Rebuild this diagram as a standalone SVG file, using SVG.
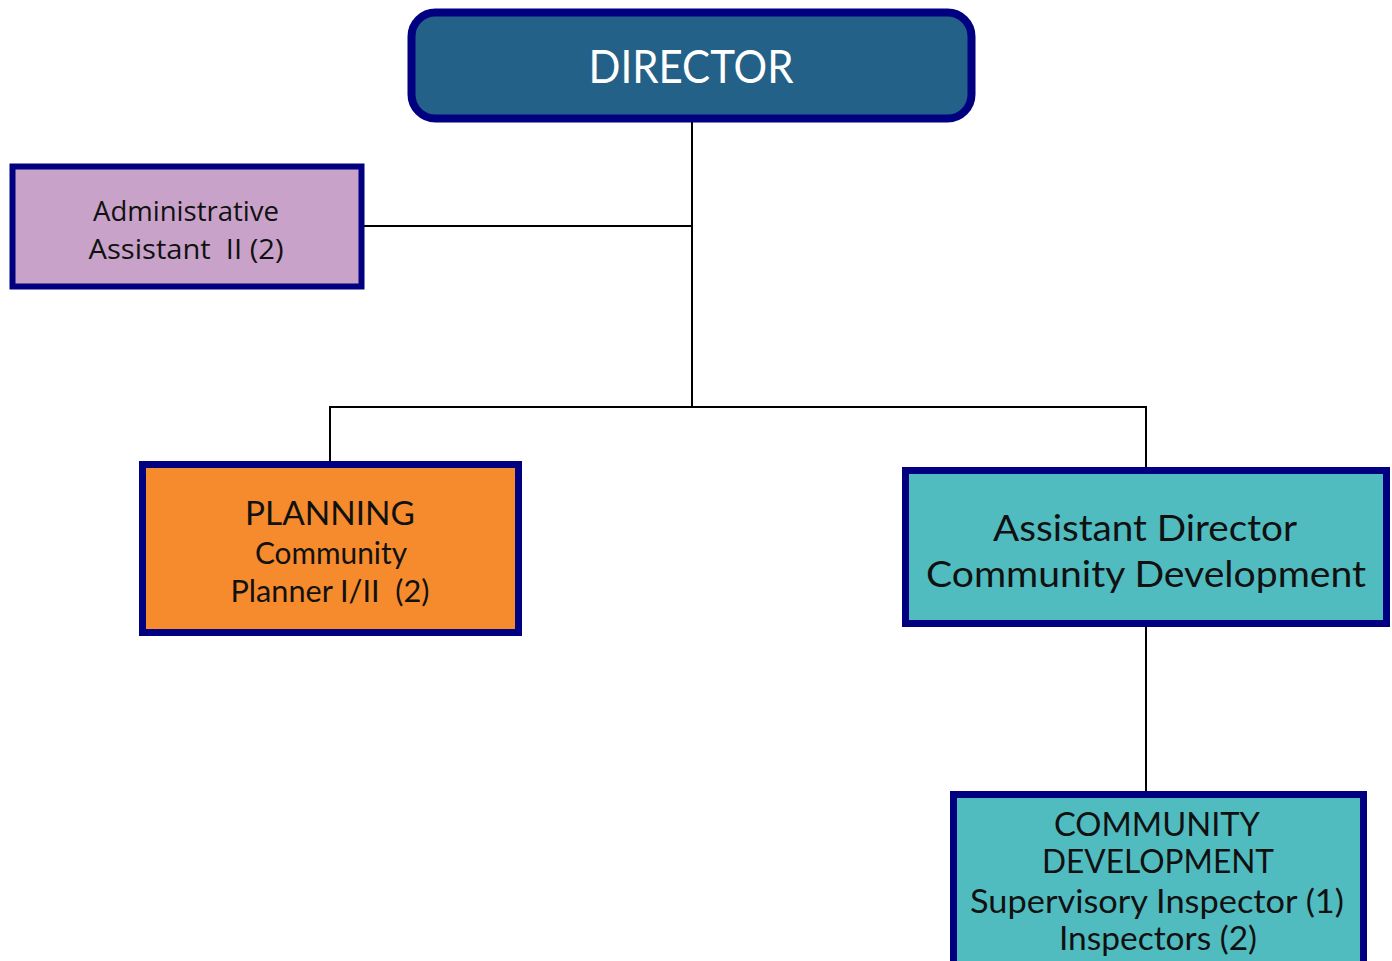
<svg xmlns="http://www.w3.org/2000/svg" width="1392" height="961" viewBox="0 0 1392 961">
<style>
.box{stroke:#000080;}
.g{font-family:Lato,"Open Sans","Liberation Sans",sans-serif;text-anchor:middle;fill:#111;white-space:pre;}
.c{font-family:"Open Sans","Liberation Sans",sans-serif;text-anchor:middle;fill:#111;white-space:pre;}
.ln{stroke:#000;stroke-width:2;fill:none;}
</style>
<rect width="1392" height="961" fill="#fff"/>
<g id="connectors">
<line class="ln" x1="692" y1="120" x2="692" y2="407"/>
<line class="ln" x1="364" y1="226" x2="691" y2="226"/>
<line class="ln" x1="329" y1="407" x2="1147" y2="407"/>
<line class="ln" x1="330" y1="407" x2="330" y2="462"/>
<line class="ln" x1="1146" y1="407" x2="1146" y2="468"/>
<line class="ln" x1="1146" y1="626" x2="1146" y2="792"/>
</g>
<g id="director">
<rect class="box" x="411.5" y="12.5" width="560" height="106" rx="24" fill="#246188" stroke-width="8"/>
<text x="691" y="83" font-family="Lato,'Open Sans',sans-serif" font-size="46" fill="#fff" text-anchor="middle" textLength="205" lengthAdjust="spacingAndGlyphs">DIRECTOR</text>
</g>
<g id="admin">
<rect class="box" x="12.5" y="166.5" width="349" height="120" fill="#C8A2C8" stroke-width="6"/>
<text class="c" x="186" y="221" font-size="28" textLength="186" lengthAdjust="spacingAndGlyphs">Administrative</text>
<text class="c" x="186" y="259" font-size="28" textLength="195" lengthAdjust="spacingAndGlyphs" xml:space="preserve">Assistant  II (2)</text>
</g>
<g id="planning">
<rect class="box" x="142.5" y="464.5" width="376" height="168" fill="#F58B2D" stroke-width="7"/>
<text class="g" x="330" y="525" font-size="32" textLength="170" lengthAdjust="spacingAndGlyphs">PLANNING</text>
<text class="g" x="331" y="564" font-size="31" textLength="152" lengthAdjust="spacingAndGlyphs">Community</text>
<text class="g" x="330" y="602" font-size="31" textLength="199" lengthAdjust="spacingAndGlyphs" xml:space="preserve">Planner I/II  (2)</text>
</g>
<g id="asst-director">
<rect class="box" x="905.5" y="470.5" width="481" height="153" fill="#50BCC0" stroke-width="7"/>
<text class="g" x="1145" y="541" font-size="36" textLength="304" lengthAdjust="spacingAndGlyphs">Assistant Director</text>
<text class="g" x="1146" y="587" font-size="36" textLength="440" lengthAdjust="spacingAndGlyphs">Community Development</text>
</g>
<g id="comm-dev">
<rect class="box" x="953.5" y="794.5" width="410" height="175" fill="#50BCC0" stroke-width="7"/>
<text class="g" x="1157" y="836" font-size="32" textLength="206" lengthAdjust="spacingAndGlyphs">COMMUNITY</text>
<text class="g" x="1158" y="873" font-size="32" textLength="232" lengthAdjust="spacingAndGlyphs">DEVELOPMENT</text>
<text class="g" x="1157" y="913" font-size="32" textLength="374" lengthAdjust="spacingAndGlyphs">Supervisory Inspector (1)</text>
<text class="g" x="1158" y="950" font-size="32" textLength="198" lengthAdjust="spacingAndGlyphs">Inspectors (2)</text>
</g>
</svg>
